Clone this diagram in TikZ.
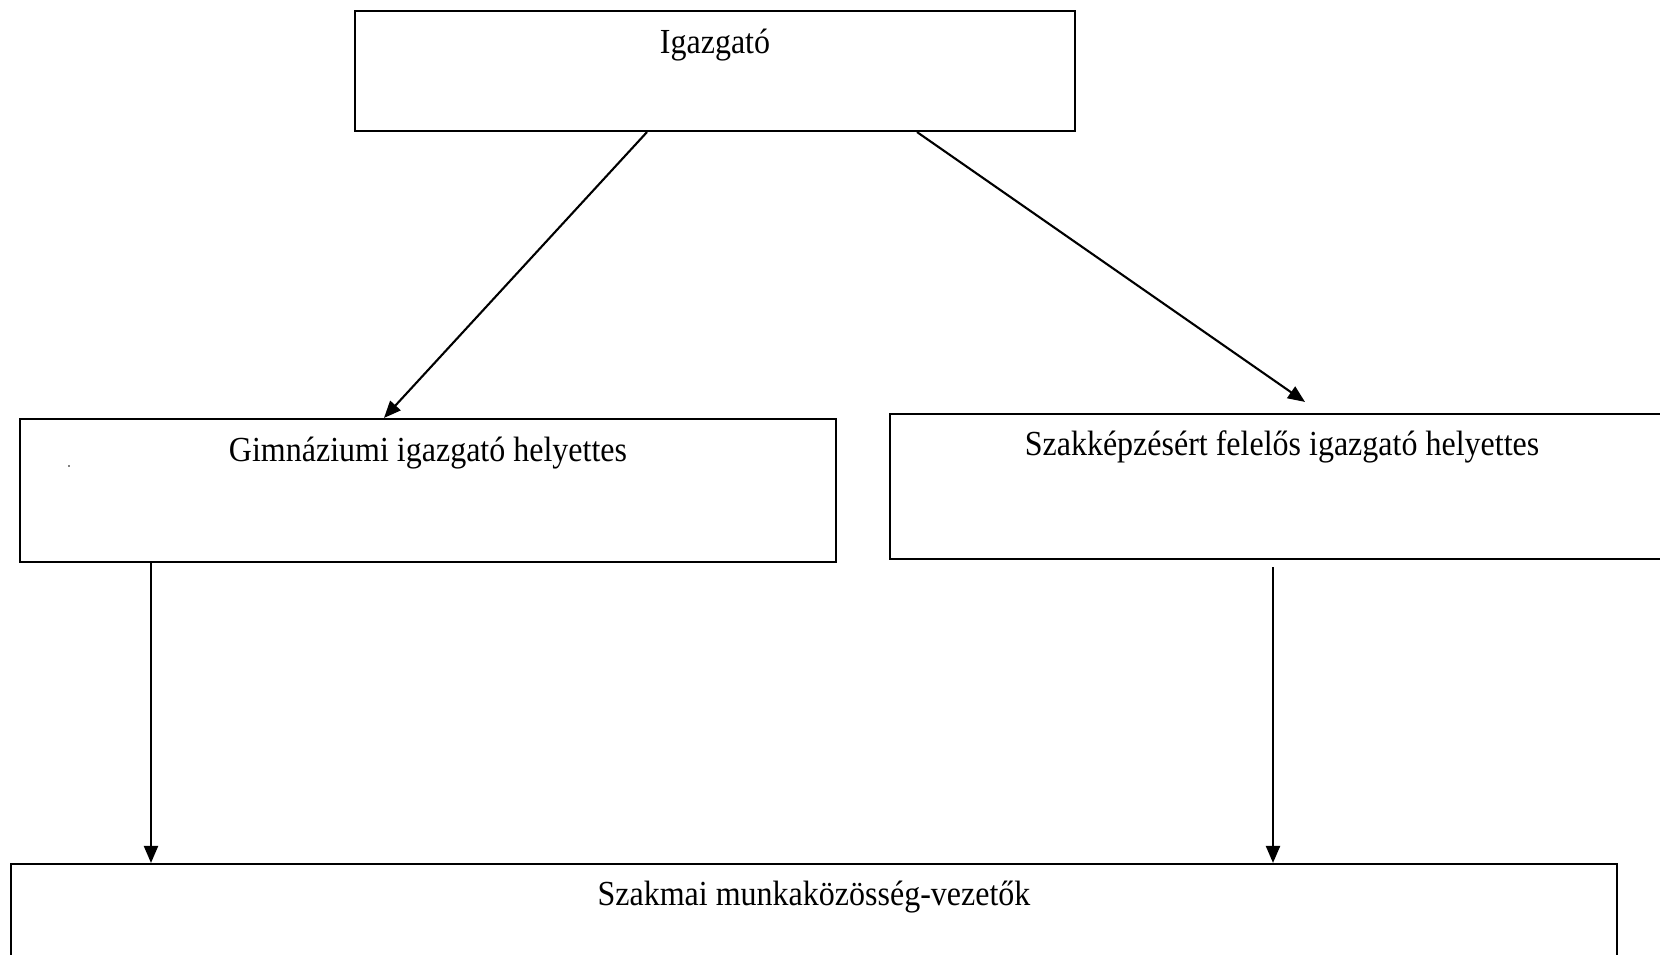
\documentclass[tikz,border=0pt]{standalone}
\usepackage{fontspec}
\setmainfont{Liberation Serif}
\usetikzlibrary{arrows.meta}
\begin{document}
\begin{tikzpicture}[x=1pt,y=-1pt,
  box/.style={draw,line width=2.1pt,rectangle,inner sep=0pt},
  lbl/.style={anchor=base,inner sep=0pt,yscale=1.1,font=\fontsize{32}{36}\selectfont},
  arr/.style={line width=2.1pt,-{Triangle[length=17pt,width=14pt]}}]
\useasboundingbox (0,0) rectangle (1660,955);
\clip (0,0) rectangle (1660,955);
\fill[white] (0,0) rectangle (1660,955);
\node[box,minimum width=720pt,minimum height=120pt] (top) at (715,71) {};
\node[box,minimum width=816pt,minimum height=143pt] (left) at (428,490.5) {};
\node[box,minimum width=784pt,minimum height=145pt] (right) at (1282,486.5) {};
\node[box,minimum width=1606pt,minimum height=140pt] (bottom) at (814,934) {};
\node[lbl] (topt) at (715,54) {Igazgató};
\node[lbl] (leftt) at (428,461) {Gimnáziumi igazgató helyettes};
\node[lbl] (rightt) at (1282,455) {Szakképzésért felelős igazgató helyettes};
\node[lbl] (bottomt) at (814,905) {Szakmai munkaközösség-vezetők};
\fill (69,466) circle (0.8pt);
\draw[arr] ([xshift=-68pt]top.south) -- ([xshift=-44pt]left.north);
\draw[arr] ([xshift=202pt]top.south) -- ([xshift=23pt,yshift=11pt]right.north);
\coordinate (l1) at ([xshift=-277pt]left.south);
\draw[arr] (l1) -- (l1 |- bottom.north);
\coordinate (r1) at ([xshift=-9pt,yshift=-7pt]right.south);
\draw[arr] (r1) -- (r1 |- bottom.north);
\end{tikzpicture}
\end{document}
